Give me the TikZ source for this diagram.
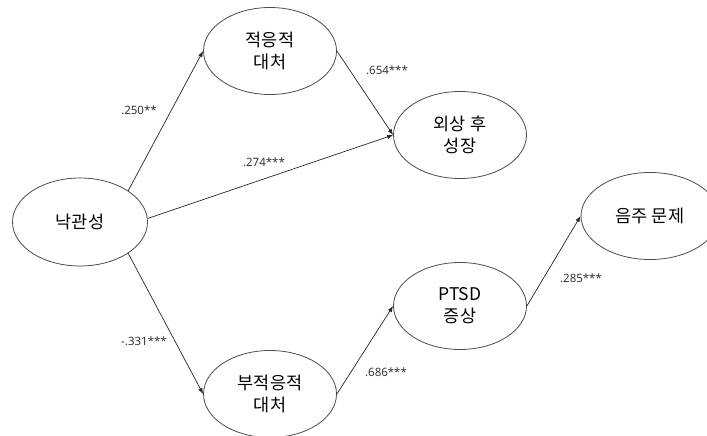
\documentclass[tikz,border=0pt]{standalone}
\usepackage{fontspec}
\setmainfont{Noto Sans CJK KR}
\newfontfamily\numfont{Noto Sans}
\usetikzlibrary{shapes.geometric}
\usetikzlibrary{arrows.meta}

\begin{document}
\begin{tikzpicture}[x=1pt,y=-1pt,
  var/.style={draw=black!70, line width=0.8pt, ellipse, minimum width=133pt, minimum height=87pt, inner sep=0pt, align=center, font=\fontsize{17.5}{22}\selectfont},
  arr/.style={draw=black!85, line width=0.7pt, -{Latex[length=6pt,width=4.5pt]}},
  coef/.style={font=\numfont\fontsize{11.5}{13}\selectfont, text=black!80}]

\useasboundingbox (0,0) rectangle (707,436);

% variables
\node[var, minimum width=135pt, minimum height=88pt] (opt) at (80,222) {낙관성};
\node[var] (adapt) at (270,51) {적응적\\대처};
\node[var] (growth) at (460,135) {외상 후\\성장};
\node[var] (maladapt) at (270,394) {부적응적\\대처};
\node[var] (ptsd) at (460,306) {PTSD\\증상};
\node[var, minimum width=138pt] (drink) at (650,216) {음주 문제};

% paths
\draw[arr] (opt.33) -- (adapt.west);
\draw[arr] (opt.3) -- (growth.west);
\draw[arr] (adapt.east) -- (growth.west);
\draw[arr] (opt.-33) -- (maladapt.west);
\draw[arr] (maladapt.east) -- (ptsd.west);
\draw[arr] (ptsd.east) -- (drink.west);

% coefficients
\node[coef] (c-opt-adapt) at (139,110) {.250**};
\node[coef] (c-opt-growth) at (264,162) {.274***};
\node[coef] (c-adapt-growth) at (387,70) {.654***};
\node[coef] (c-opt-mal) at (144,341) {-.331***};
\node[coef] (c-mal-ptsd) at (386,372) {.686***};
\node[coef] (c-ptsd-drink) at (581,278) {.285***};

\end{tikzpicture}
\end{document}
